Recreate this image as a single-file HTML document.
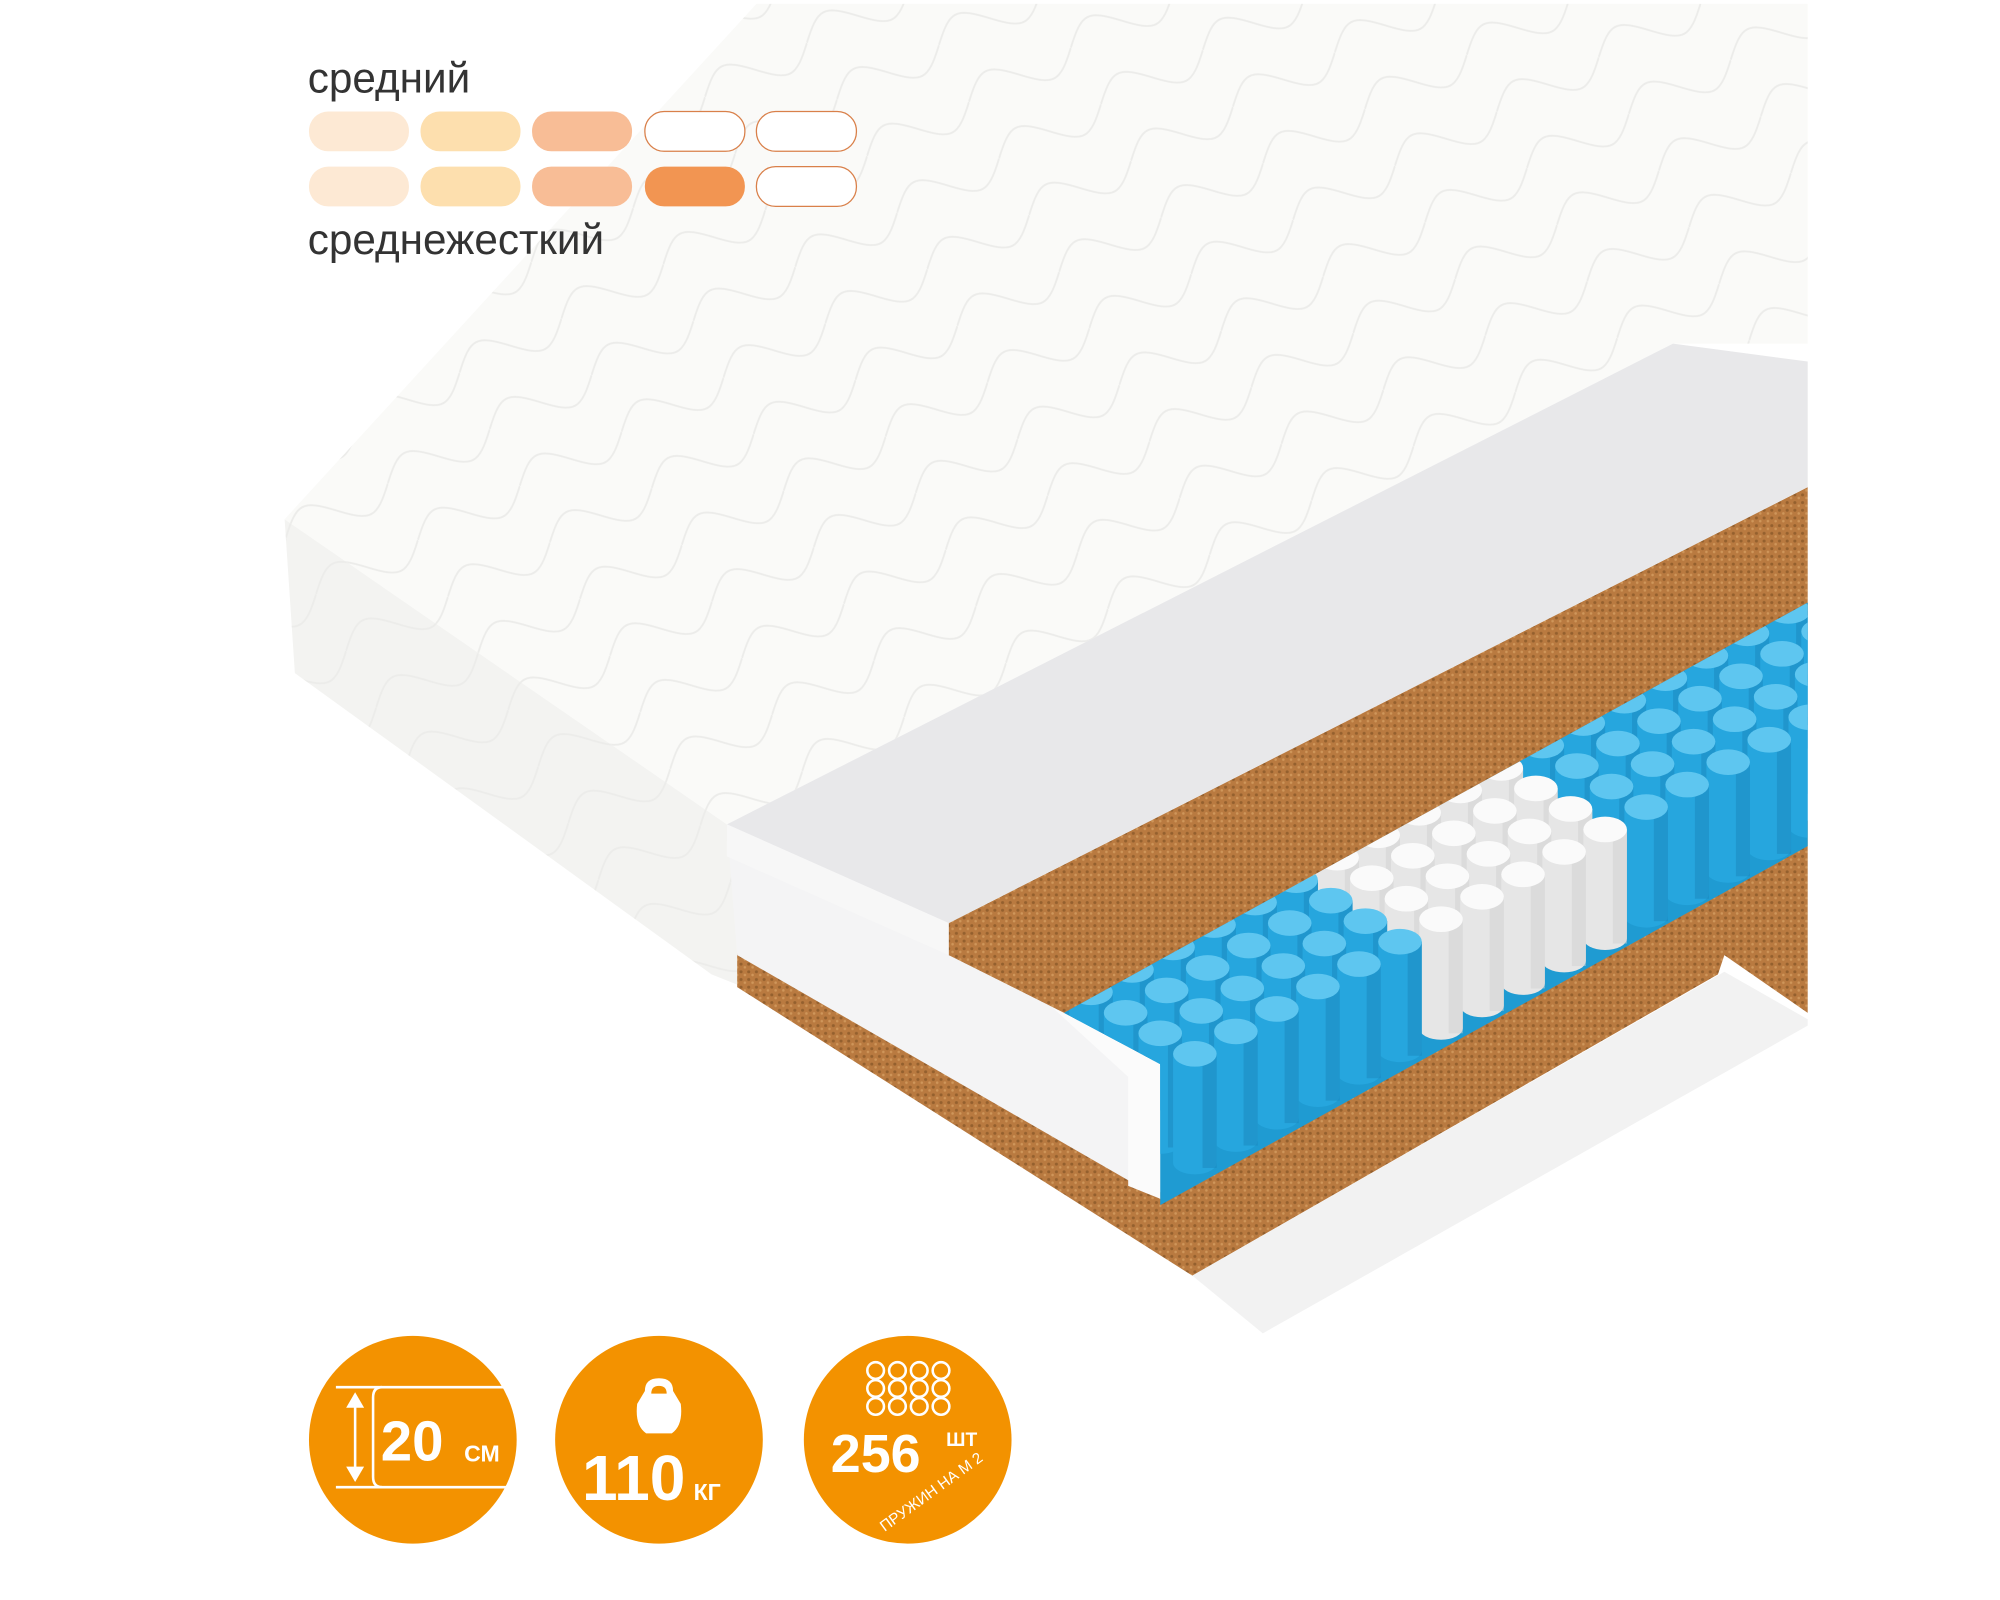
<!DOCTYPE html>
<html><head><meta charset="utf-8"><style>
html,body{margin:0;padding:0;background:#fff;}
svg{display:block;}
</style></head><body>
<svg id="s" width="2000" height="1600" viewBox="0 0 1560 1248" preserveAspectRatio="none" xmlns="http://www.w3.org/2000/svg">
<defs>
<pattern id="q" width="90" height="50" patternUnits="userSpaceOnUse" patternTransform="rotate(-28)">
<path d="M0 25 C20 5,25 5,45 25 C65 45,70 45,90 25" fill="none" stroke="#ececea" stroke-width="1.5"/>
</pattern>
<pattern id="coco" width="6" height="6" patternUnits="userSpaceOnUse">
<rect width="6" height="6" fill="#b97a40"/><circle cx="2" cy="2" r="1.2" fill="#94602e"/><circle cx="5" cy="4.5" r="1" fill="#cf965a"/>
</pattern>
<clipPath id="sp"><polygon points="830,790 1410,470 1410,660 905,940 905,830"/></clipPath>
</defs>
<rect width="1560" height="1248" fill="#fff"/>
<polygon points="222,405 567,643 580,770 555,760 230,525" fill="#f3f3f1"/>
<polygon points="222,405 567,643 580,770 555,760 230,525" fill="url(#q)"/>
<polygon points="222,405 590,3 1410,3 1410,268 1305,268 567,643" fill="#fafaf8"/>
<polygon points="222,405 590,3 1410,3 1410,268 1305,268 567,643" fill="url(#q)"/>
<polygon points="575,740 905,930 1410,640 1410,790 1345,745 1340,760 930,995 575,770" fill="url(#coco)"/>
<polygon points="930,995 1345,758 1410,795 1410,800 985,1040" fill="#f2f2f2"/>
<polygon points="567,643 740,720 740,745 820,785 905,830 905,935 575,745" fill="#f4f4f5"/>
<polygon points="820,785 905,830 905,935 880,925 880,840" fill="#fbfbfb"/>
<polygon points="740,720 1410,380 1410,480 830,790 740,745" fill="url(#coco)"/>
<polygon points="567,643 1305,268 1410,282 1410,380 740,720" fill="#e8e8ea"/>
<polygon points="567,643 740,720 740,745 567,668" fill="#f7f7f7"/>
<polygon points="830,790 1410,470 1410,660 905,940 905,830" fill="#1f9bd2"/>
<g id="springs" clip-path="url(#sp)"></g>
<g font-family="Liberation Sans, DejaVu Sans, sans-serif" fill="#333">
<text x="240" y="72" font-size="33">средний</text>
<text x="240" y="198" font-size="33">среднежесткий</text>
</g>
<rect x="241" y="87" width="78" height="31" rx="15" fill="#fde9d4"/>
<rect x="328" y="87" width="78" height="31" rx="15" fill="#fddfae"/>
<rect x="415" y="87" width="78" height="31" rx="15" fill="#f8bd96"/>
<rect x="503" y="87" width="78" height="31" rx="15" fill="#fff" stroke="#d9804a" stroke-width="1"/>
<rect x="590" y="87" width="78" height="31" rx="15" fill="#fff" stroke="#d9804a" stroke-width="1"/>
<rect x="241" y="130" width="78" height="31" rx="15" fill="#fde9d4"/>
<rect x="328" y="130" width="78" height="31" rx="15" fill="#fddfae"/>
<rect x="415" y="130" width="78" height="31" rx="15" fill="#f8bd96"/>
<rect x="503" y="130" width="78" height="31" rx="15" fill="#f29552"/>
<rect x="590" y="130" width="78" height="31" rx="15" fill="#fff" stroke="#d9804a" stroke-width="1"/>
<circle cx="322" cy="1123" r="81" fill="#f39200"/>
<circle cx="514" cy="1123" r="81" fill="#f39200"/>
<circle cx="708" cy="1123" r="81" fill="#f39200"/>
<g stroke="#fff" stroke-width="2" fill="none">
<line x1="262" y1="1082" x2="396" y2="1082"/><line x1="262" y1="1160" x2="396" y2="1160"/>
<path d="M298 1082 Q291 1082 291 1090 L291 1152 Q291 1160 298 1160"/>
<line x1="277" y1="1092" x2="277" y2="1150"/>
</g>
<polygon points="277,1086 270,1098 284,1098" fill="#fff"/><polygon points="277,1156 270,1144 284,1144" fill="#fff"/>
<g font-family="Liberation Sans, DejaVu Sans, sans-serif" font-weight="bold" fill="#fff">
<text x="297" y="1139" font-size="44">20</text>
<text x="362" y="1140" font-size="18">СМ</text>
<text x="454" y="1170" font-size="50">110</text>
<text x="541" y="1170" font-size="18">КГ</text>
<text x="648" y="1148" font-size="42">256</text>
<text x="738" y="1128" font-size="15">ШТ</text>
<text x="0" y="0" font-size="12" font-weight="normal" transform="translate(690,1195) rotate(-36)">ПРУЖИН НА М 2</text>
</g>
<path d="M503 1085 Q503 1075 514 1075 Q525 1075 525 1085 L531 1095 Q533 1112 524 1118 L504 1118 Q495 1112 497 1095 Z M508 1087 Q508 1081 514 1081 Q520 1081 520 1087 Z" fill="#fff" fill-rule="evenodd"/>
<g fill="none" stroke="#fff" stroke-width="2" id="rings"></g>
<script>
(function(){
var ns="http://www.w3.org/2000/svg";
var r=document.getElementById('rings');
for(var a=0;a<3;a++)for(var b=0;b<4;b++){var c=document.createElementNS(ns,'circle');c.setAttribute('cx',683+b*17);c.setAttribute('cy',1069+a*14);c.setAttribute('r',6.5);r.appendChild(c);}
var g=document.getElementById('springs');
for(var j=4;j>=0;j--){for(var i=19;i>=0;i--){
 var x=932+32*i-27*j, y=822-17.5*i-16*j;
 var white=(i>=6&&i<=10);
 var body=white?'#e6e6e6':'#26a6de', top=white?'#fafafa':'#5ec6f0', sh=white?'#cfcfcf':'#1a86bb';
 var h=85;
 var p=document.createElementNS(ns,'path');
 p.setAttribute('d','M'+(x-17)+' '+y+' L'+(x-17)+' '+(y+h)+' A17 9 0 0 0 '+(x+17)+' '+(y+h)+' L'+(x+17)+' '+y+' Z');
 p.setAttribute('fill',body);g.appendChild(p);
 var s=document.createElementNS(ns,'rect');s.setAttribute('x',x+6);s.setAttribute('y',y);s.setAttribute('width',11);s.setAttribute('height',h+4);s.setAttribute('fill',sh);s.setAttribute('opacity','0.5');g.appendChild(s);
 var e=document.createElementNS(ns,'ellipse');e.setAttribute('cx',x);e.setAttribute('cy',y);e.setAttribute('rx',17);e.setAttribute('ry',10);e.setAttribute('fill',top);g.appendChild(e);
}}
})();
</script>
</svg>
</body></html>
